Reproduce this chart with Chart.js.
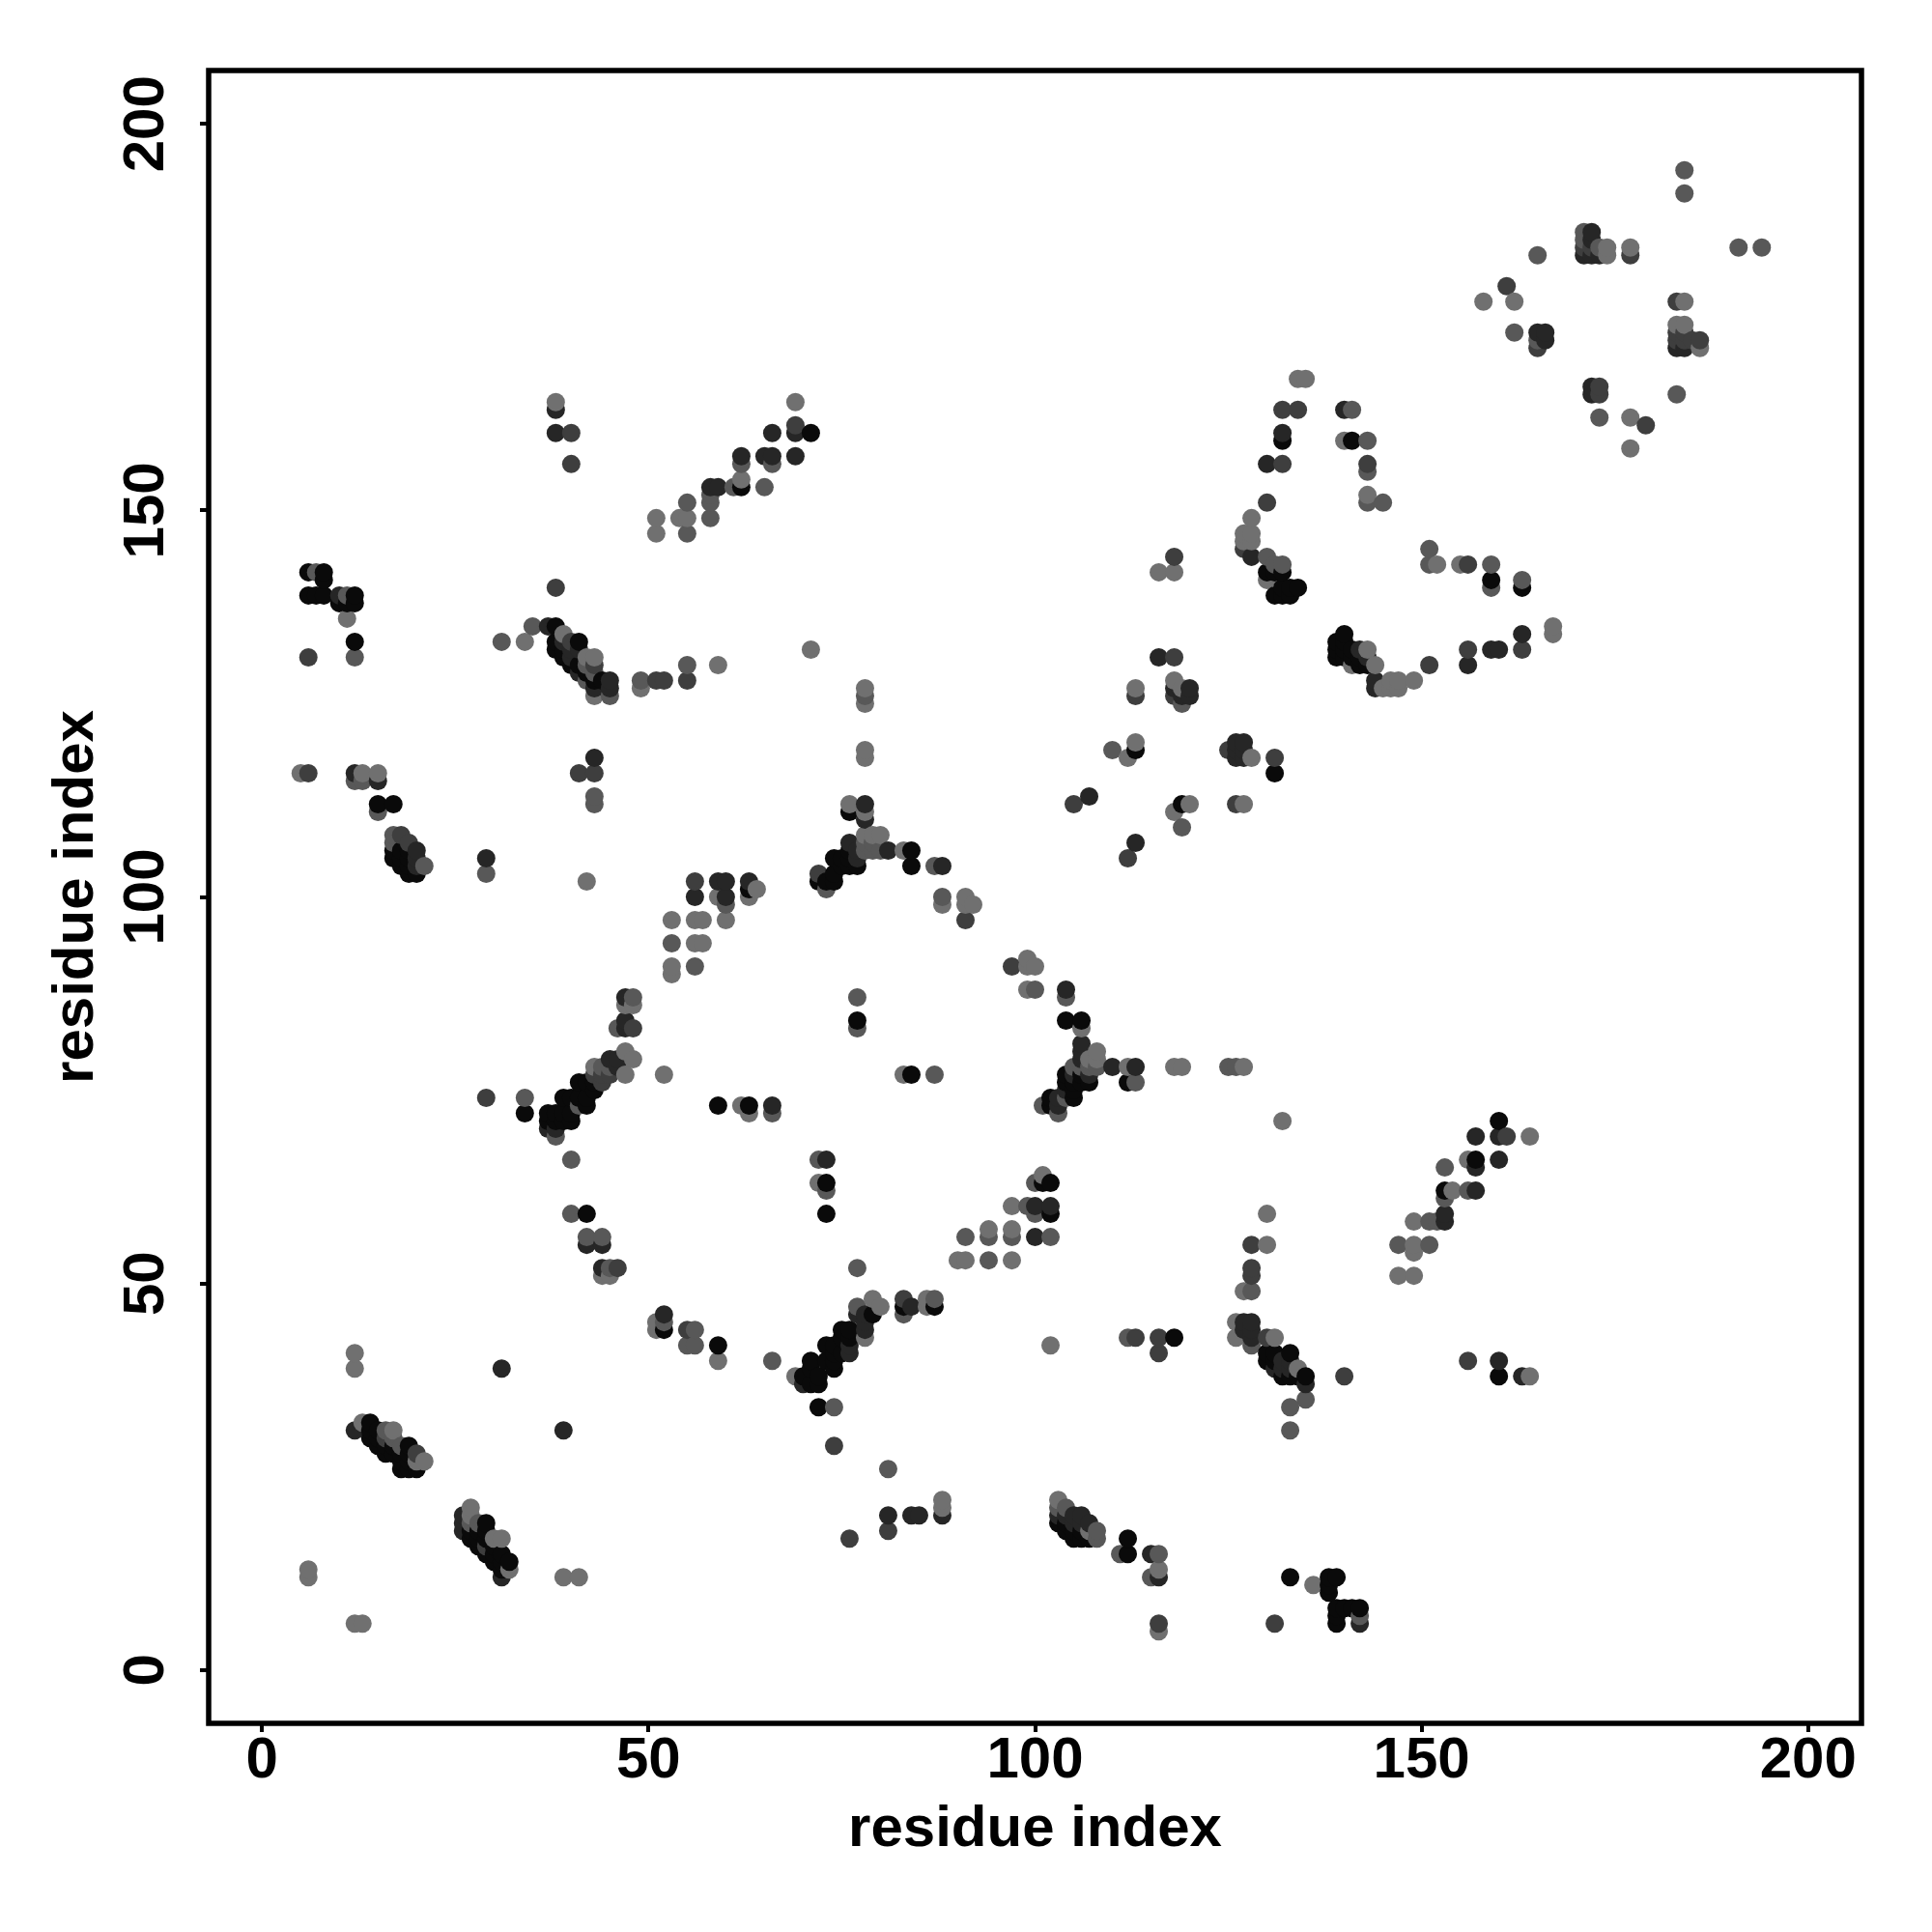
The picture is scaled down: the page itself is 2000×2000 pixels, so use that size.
<!DOCTYPE html>
<html>
<head>
<meta charset="utf-8">
<title>residue contact map</title>
<script src="https://cdn.jsdelivr.net/npm/chart.js@4"></script>
<style>
  html, body { margin: 0; background: #fff; }
  #map { display: block; }
</style>
</head>
<body>
<canvas id="map" width="2000" height="2000"></canvas>
<script>
// contacts [i, j], grouped by how dark the dot is
const contactsLight = [[12,41],[12,39],[13,32],[17,31],[20,27],[21,27],[27,21],[27,20],[30,17],[31,17],[32,13],[41,12],[39,12],[6,13],[6,12],[12,6],[13,6],
  [44,51],[45,51],[51,45],[51,44],[59,40],[79,48],[80,47],[78,43],[86,48],[86,47],[69,38],[88,22],[88,21],[90,53],[91,53],[97,53],[102,42],[103,22],[107,18],
  [116,13],[116,5],[136,11],[126,43],[126,45],[127,49],[131,43],[134,39],[132,71],[164,69],[156,66],[154,62],[149,58],[149,55],[149,54],[147,51],[149,51],[130,59],[130,55],[164,38],
  [53,97],[56,97],[57,97],[60,97],[56,94],[57,94],[53,91],[53,90],[47,86],[48,86],[47,80],[48,79],[43,78],[47,77],[52,77],[62,73],[63,72],[72,63],[83,77],[94,57],[97,57],[97,60],[101,64],
  [99,92],[99,91],[100,91],[99,88],[106,83],[108,80],[107,79],[108,79],[112,78],[118,78],[119,78],[127,78],[78,127],[78,125],[78,119],[78,118],[76,112],[78,111],[78,108],[79,108],[80,108],[83,106],
  [88,99],[91,100],[91,99],[92,99],[112,118],[113,120],[113,127],[118,128],[119,127],[120,112],[118,111],[128,118],[127,112],[134,167],[135,167],[140,159],[143,152],[128,149],[127,147],[128,147],[127,146],[128,146],[130,141],
  [116,142],[118,142],[152,143],[155,143],[167,135],[167,134],[149,128],[147,128],[146,128],[147,127],[146,127],[145,127],[144,130],[141,130],[143,132],[11,136],[34,133],[39,134],[43,131],[42,131],[43,126],[49,127],[59,130],[71,132],
  [5,116],[13,116],[15,116],[42,102],[59,100],[64,101],[63,100],[158,177],[162,177],[174,184],[174,183],[177,184],[177,162],[177,158],[184,177],[183,174],[184,174],[186,171],[38,164],[69,164],[51,149],[51,147],[54,149],[55,149],[62,154]];

const contactsMedium = [[16,31],[17,30],[18,29],[45,52],[55,42],[56,42],[56,44],[52,45],[56,91],[66,40],[77,52],[74,34],[81,26],[77,47],[87,48],[83,46],[94,53],[112,43],[108,18],[108,17],[111,15],[116,15],[115,12],[128,49],[128,42],[133,34],[133,31],[135,35],
  [153,65],[153,61],[151,58],[152,58],[147,55],[151,55],[156,62],[53,94],[48,87],[46,83],[44,78],[45,78],[40,66],[40,59],[42,56],[44,56],[41,73],[38,69],[34,74],[66,72],[72,66],[73,62],[77,87],[77,83],[87,77],
  [91,56],[94,56],[97,56],[102,56],[99,60],[100,59],[100,63],[100,88],[104,87],[105,78],[106,78],[107,78],[108,78],[113,76],[103,72],[101,73],[104,74],[125,78],[126,78],[78,126],[78,106],[78,107],[79,107],[80,106],[79,106],[87,104],[88,100],
  [103,21],[104,21],[27,19],[28,19],[110,119],[119,125],[119,109],[141,163],[143,159],[143,155],[143,151],[145,151],[130,144],[131,143],[132,143],[159,143],[159,140],[163,141],[151,145],[151,143],[12,131],[31,133],[35,135],[42,128],[42,130],[43,129],[45,126],[49,128],[55,130],
  [12,115],[13,115],[15,111],[17,108],[17,107],[21,104],[29,103],[43,113],[43,112],[60,99],[73,101],[165,183],[162,173],[184,194],[184,191],[191,184],[194,184],[173,184],[183,165],[173,162],[165,172],[171,186],[171,185],
  [58,149],[55,151],[55,147],[58,151],[58,152],[61,153],[65,153],[62,156],[66,156],[7,142],[11,139],[142,7]];

const contactsDim = [[55,44],[83,48],[81,18],[76,17],[74,29],[113,43],[116,43],[116,41],[128,52],[128,51],[116,6],[131,6],[130,43],[140,38],[156,40],[128,55],[29,74],[48,83],[44,76],[43,77],[44,77],[45,77],[91,97],[97,91],[105,112],[112,105],
  [16,30],[20,28],[29,16],[118,131],[113,126],[118,126],[118,144],[125,119],[131,118],[126,112],[132,163],[134,163],[132,156],[143,156],[130,151],[127,145],[156,143],[163,132],[151,130],[156,132],[51,128],[52,128],[55,128],[6,131],[38,140],[6,116],
  [40,133],[43,130],[41,116],[43,116],[18,108],[19,107],[56,102],[72,103],[161,179],[177,183],[179,161],[186,172],[183,177],[172,184],[183,172],[184,172],[183,173],[184,173],[185,172],[165,171],[173,165],[173,166],[171,184],[40,160],[40,156],[69,161],[46,52],[161,69]];

const contactsDark = [[12,31],[31,39],[39,31],[52,46],[44,52],[84,47],[81,20],[84,20],[85,20],[88,20],[70,37],[76,41],[76,42],[78,44],[78,45],[78,46],[77,46],[103,20],[104,20],[106,20],[105,20],[105,19],[106,19],[107,19],[115,15],[116,12],[127,45],[128,45],[128,44],[127,44],[128,43],[135,37],
  [26,20],[26,19],[26,18],[31,12],[157,69],[160,69],[157,65],[160,66],[157,62],[153,59],[153,58],[163,38],[160,40],[47,87],[47,84],[47,83],[45,79],[46,78],[46,79],[37,70],[38,70],[42,55],[44,55],[66,73],[73,66],[100,56],[100,60],[102,60],[104,88],
  [106,81],[106,80],[106,79],[110,78],[113,78],[103,73],[103,74],[104,75],[105,77],[107,77],[78,112],[78,110],[81,106],[76,107],[77,105],[77,106],[88,104],[107,113],[113,107],[116,131],[118,127],[119,126],[120,127],[120,126],[126,120],[127,120],[126,118],[127,118],[126,119],[127,119],
  [140,163],[132,160],[130,156],[128,144],[163,134],[159,132],[160,132],[156,130],[144,128],[144,127],[142,132],[143,131],[10,139],[37,135],[45,128],[45,127],[43,127],[12,116],[15,115],[20,106],[20,105],[20,104],[29,105],[43,118],[59,102],[60,102],[56,100],[60,100],[63,102],
  [131,39],[132,39],[132,40],[133,39],[133,40],[39,133],[40,132],[40,131],[41,132],[41,129],[171,183],[172,183],[173,183],[183,171],[184,171],[166,173],[165,173],[166,172],[172,166],[172,165],[172,186],[172,185],[38,163],[38,160],[58,153],[59,153],[62,157],[65,157],[66,157],[66,160],[69,160],[69,157],[142,6]];

const contactsBlack = [[14,32],[14,31],[14,30],[15,31],[15,30],[15,29],[16,29],[16,28],[17,29],[17,28],[18,28],[18,27],[18,26],[19,27],[19,26],[20,26],[19,29],[19,28],[27,18],[27,17],[28,18],[28,17],[28,16],[29,19],[29,18],[29,17],[29,15],[30,16],[30,15],[30,14],[31,15],[31,13],[31,14],[32,14],[59,42],[52,44],
  [71,40],[71,39],[71,37],[72,38],[72,37],[70,38],[73,42],[74,42],[74,41],[74,40],[74,39],[73,40],[75,41],[75,43],[75,44],[76,43],[76,44],[79,46],[83,47],[87,47],[72,34],[103,19],[104,19],[104,18],[105,17],[106,17],[107,17],[105,18],[106,18],[112,17],[112,15],[118,43],[133,12],
  [138,12],[139,12],[138,11],[138,10],[139,8],[139,7],[139,6],[140,8],[141,8],[142,8],[130,41],[130,40],[131,41],[131,40],[133,41],[132,38],[133,38],[134,38],[135,38],[160,71],[157,66],[153,62],[160,38],
  [41,76],[42,76],[43,76],[43,75],[39,74],[40,74],[41,74],[42,74],[42,73],[37,72],[38,72],[39,72],[37,71],[38,71],[39,71],[40,71],[40,72],[34,72],[42,59],[59,73],[63,73],[73,63],[73,59],[77,84],[84,77],[102,63],[101,63],[102,59],[104,84],[106,84],
  [104,77],[104,76],[105,76],[105,75],[106,76],[107,76],[106,77],[102,74],[102,73],[105,74],[112,76],[76,111],[76,106],[76,105],[77,104],[76,104],[75,104],[75,105],[74,105],[74,103],[74,102],[73,102],[72,102],[84,106],[84,104],[113,119],[119,112],[131,116],
  [132,159],[141,159],[130,142],[131,142],[132,142],[131,139],[132,139],[133,139],[133,140],[134,140],[132,140],[159,141],[163,140],[140,134],[139,133],[140,133],[140,132],[139,132],[139,131],[140,131],[141,132],[142,131],[142,130],[143,130],[141,131],
  [6,142],[8,142],[8,141],[6,139],[7,139],[8,139],[12,139],[10,138],[11,138],[12,138],[12,133],[38,135],[38,133],[41,133],[38,132],[39,132],[39,131],[40,130],[41,130],[42,129],[43,128],[44,128],
  [15,112],[17,112],[17,106],[17,105],[18,105],[18,104],[18,106],[19,106],[19,105],[19,104],[19,103],[20,103],[63,101],[71,160],[62,153]];

const tickValues = [0, 50, 100, 150, 200];
const axisLabel = 'residue index';

const groups = [
  [contactsLight, '#707070'],
  [contactsMedium, '#585858'],
  [contactsDim, '#3e3e3e'],
  [contactsDark, '#262626'],
  [contactsBlack, '#0a0a0a']
];

// the original plots in i, then j order, so later dots sit on top
const points = [];
groups.forEach(([list, colour]) => {
  list.forEach(([x, y]) => points.push({ x, y, colour }));
});
points.sort((a, b) => a.x - b.x || a.y - b.y);

const frame = {
  id: 'frame',
  afterDatasetsDraw(chart) {
    const { ctx, chartArea: a } = chart;
    ctx.save();
    ctx.strokeStyle = '#000';
    ctx.lineWidth = 5.5;
    ctx.strokeRect(a.left, a.top, a.right - a.left, a.bottom - a.top);
    ctx.restore();
  }
};

function axis(extra) {
  return Object.assign({
    type: 'linear',
    min: -6.9,
    max: 206.9,
    afterBuildTicks(scale) { scale.ticks = tickValues.map(value => ({ value })); },
    grid: { drawOnChartArea: false, color: '#000', lineWidth: 4, tickLength: 9 },
    border: { display: false }
  }, extra);
}

const labelFont = { family: '"Liberation Sans"', size: 60, weight: 'bold' };

new Chart(document.getElementById('map'), {
  type: 'scatter',
  data: {
    datasets: [{
      data: points,
      pointRadius: 9.5,
      pointBorderWidth: 0,
      pointBackgroundColor: points.map(p => p.colour)
    }]
  },
  plugins: [frame],
  options: {
    responsive: false,
    animation: false,
    layout: { padding: { top: 73, right: 73 } },
    plugins: { legend: { display: false }, tooltip: { enabled: false } },
    scales: {
      x: axis({
        afterFit(scale) { scale.height = 216; },
        ticks: { color: '#000', font: labelFont, maxRotation: 0, padding: -6 },
        title: { display: true, text: axisLabel, color: '#000', font: labelFont, padding: { top: 0, bottom: 70 } }
      }),
      y: axis({
        afterFit(scale) { scale.width = 216; },
        ticks: { color: '#000', font: labelFont, minRotation: 90, maxRotation: 90, crossAlign: 'center', padding: 4 },
        title: { display: true, text: axisLabel, color: '#000', font: labelFont, padding: { top: 43, bottom: 0 } }
      })
    }
  }
});
</script>
</body>
</html>
